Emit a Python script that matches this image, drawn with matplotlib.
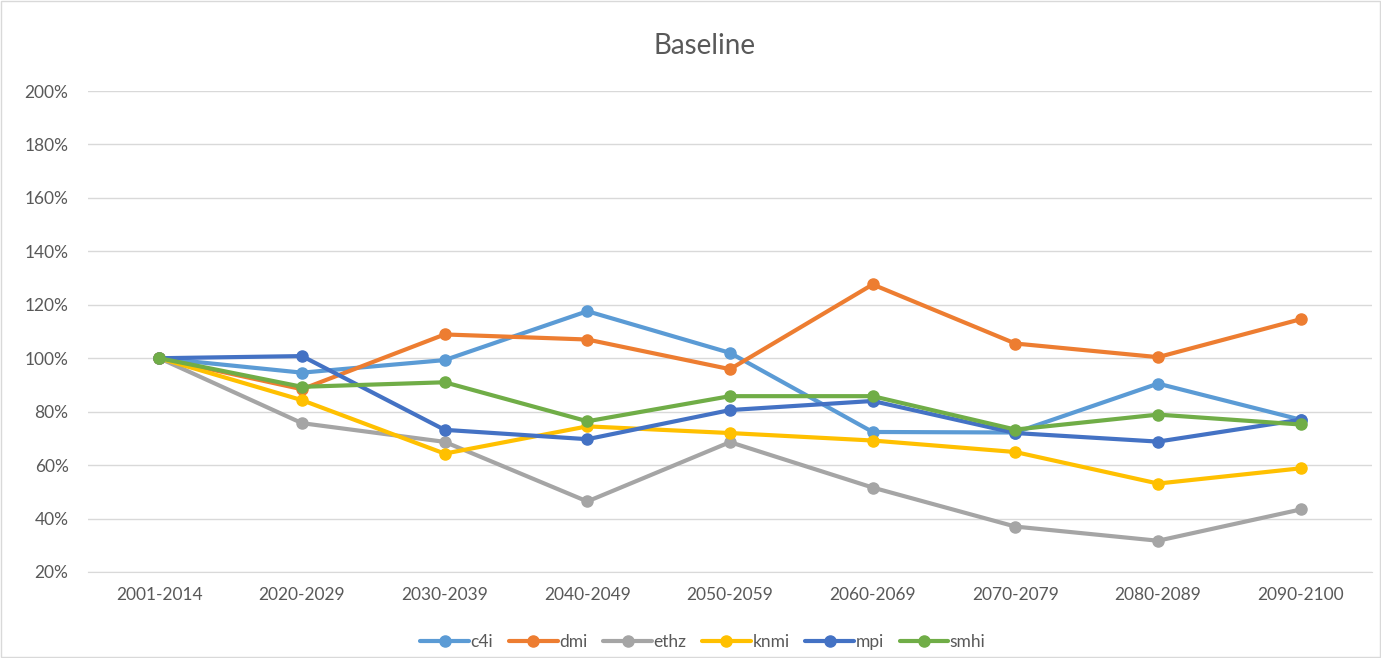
import matplotlib
matplotlib.use("Agg")
import matplotlib.pyplot as plt
from matplotlib.ticker import FuncFormatter
from matplotlib.patches import Rectangle

periods = ["2001-2014", "2020-2029", "2030-2039", "2040-2049", "2050-2059",
           "2060-2069", "2070-2079", "2080-2089", "2090-2100"]

c4i = [100, 94.6, 99.3, 117.6, 102.0, 72.4, 72.2, 90.5, 77.0]
dmi = [100, 88.4, 108.9, 107.0, 95.9, 127.6, 105.5, 100.4, 114.6]
ethz = [100, 75.7, 68.7, 46.4, 68.6, 51.6, 37.0, 31.7, 43.4]
knmi = [100, 84.3, 64.3, 74.5, 72.0, 69.2, 64.9, 53.1, 58.8]
mpi = [100, 100.8, 73.2, 69.7, 80.6, 84.0, 72.0, 68.8, 77.0]
smhi = [100, 89.3, 91.0, 76.4, 85.8, 85.8, 73.3, 78.9, 75.2]

names = ["c4i", "dmi", "ethz", "knmi", "mpi", "smhi"]
series = [c4i, dmi, ethz, knmi, mpi, smhi]
colors = ["#5B9BD5", "#ED7D31", "#A5A5A5", "#FFC000", "#4472C4", "#70AD47"]

plt.rcParams['font.family'] = ['Lato', 'DejaVu Sans']
textcol = "#595959"

fig = plt.figure(figsize=(13.81, 6.58), dpi=100)
ax = fig.add_axes([88 / 1381, 1 - 572 / 658, (1372 - 88) / 1381, (572 - 91) / 658])

x = list(range(len(periods)))
for name, vals, col in zip(names, series, colors):
    ax.plot(x, vals, color=col, linewidth=3, marker='o', markersize=8, label=name,
            solid_capstyle='round')

ax.set_xlim(-0.5, len(periods) - 0.5)
ax.set_ylim(20, 200)
ax.set_yticks(range(20, 201, 20))
ax.yaxis.set_major_formatter(FuncFormatter(lambda v, p: "%d%%" % v))
ax.set_xticks(x)
ax.set_xticklabels(periods)
ax.grid(True, axis='y', color="#D9D9D9", linewidth=1)
ax.set_axisbelow(True)
for s in ["top", "right", "left"]:
    ax.spines[s].set_visible(False)
ax.spines["bottom"].set_color("#D9D9D9")
ax.tick_params(length=0, colors=textcol, labelsize=12.5)
ax.tick_params(axis='x', pad=11)
ax.tick_params(axis='y', pad=14)

fig.text(705 / 1381, 1 - 46 / 658, "Baseline", ha='center', va='center',
         fontsize=20, color=textcol)

leg = fig.legend(loc='center', bbox_to_anchor=(703 / 1381, 1 - 642 / 658), ncol=6,
                 frameon=False, fontsize=12.5, handlelength=2.8, columnspacing=0.9,
                 handletextpad=0.1)
for t in leg.get_texts():
    t.set_color(textcol)

fig.patches.append(Rectangle((1 / 1381, 1 / 658), 1 - 2 / 1381, 1 - 2 / 658,
                             transform=fig.transFigure, fill=False,
                             edgecolor="#D9D9D9", linewidth=1))

fig.savefig("out.png", dpi=100)
